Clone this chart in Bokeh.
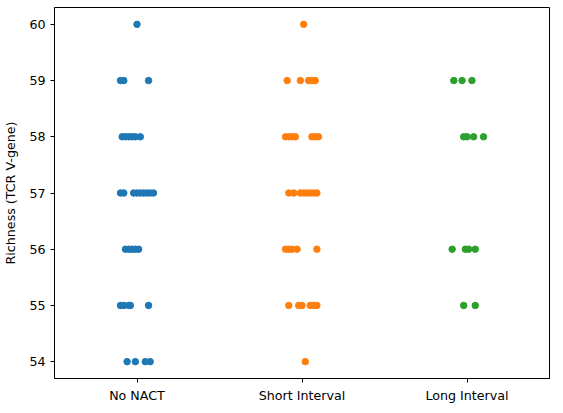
from bokeh.plotting import figure
from bokeh.models import FixedTicker
from bokeh.embed import file_html
from bokeh.resources import INLINE

categories = ["No NACT", "Short Interval", "Long Interval"]
colors = ["#1f77b4", "#ff7f0e", "#2ca02c"]

# richness values and strip jitter (category units) per group
no_nact_y = [60, 59, 59, 59, 58, 58, 58, 58, 58, 58,
             57, 57, 57, 57, 57, 57, 57, 57, 57,
             56, 56, 56, 56, 56, 55, 55, 55, 55, 55, 54, 54, 54, 54]
no_nact_j = [0.0, -0.10, -0.08, 0.07, -0.09, -0.07, -0.05, -0.03, -0.01, 0.02,
             -0.10, -0.08, -0.02, 0.0, 0.02, 0.04, 0.06, 0.08, 0.10,
             -0.07, -0.05, -0.03, -0.01, 0.01, -0.10, -0.08, -0.05, -0.04, 0.07,
             -0.06, -0.01, 0.05, 0.08]
short_y = [60, 59, 59, 59, 59, 59, 58, 58, 58, 58, 58, 58, 58,
           57, 57, 57, 57, 57, 57, 57, 57, 56, 56, 56, 56, 56,
           55, 55, 55, 55, 55, 55, 54]
short_j = [0.01, -0.09, -0.01, 0.04, 0.06, 0.08, -0.10, -0.08, -0.06, -0.04, 0.06, 0.08, 0.10,
           -0.08, -0.05, -0.01, 0.01, 0.03, 0.05, 0.07, 0.09, -0.10, -0.08, -0.06, -0.03, 0.09,
           -0.08, -0.02, 0.0, 0.05, 0.07, 0.09, 0.02]
long_y = [59, 59, 59, 58, 58, 58, 58, 56, 56, 56, 56, 55, 55]
long_j = [-0.08, -0.03, 0.03, -0.02, 0.0, 0.04, 0.10, -0.09, -0.01, 0.01, 0.05, -0.02, 0.05]

groups = [(no_nact_y, no_nact_j), (short_y, short_j), (long_y, long_j)]

p = figure(width=555, height=405, x_range=(-0.5, 2.5), y_range=(53.7, 60.3),
           output_backend="svg", toolbar_location=None,
           min_border_left=52, min_border_right=6, min_border_top=7, min_border_bottom=25)

for i, (ys, js) in enumerate(groups):
    xs = [i + j for j in js]
    p.scatter(xs, ys, size=6.5, color=colors[i], line_color=colors[i])

p.xaxis.ticker = FixedTicker(ticks=[0, 1, 2])
p.xaxis.major_label_overrides = {i: c for i, c in enumerate(categories)}
p.yaxis.ticker = FixedTicker(ticks=list(range(54, 61)))
p.yaxis.axis_label = "Richness (TCR V-gene)"
p.grid.visible = False
for ax in (p.xaxis, p.yaxis):
    ax.minor_tick_line_color = None
    ax.major_label_text_font = "DejaVu Sans"
    ax.major_label_text_font_size = "9.5pt"
    ax.major_label_text_color = "black"
    ax.major_tick_in = 0
    ax.major_tick_out = 4
    ax.axis_line_color = "black"
p.yaxis.axis_label_text_font = "DejaVu Sans"
p.yaxis.axis_label_text_font_style = "normal"
p.yaxis.axis_label_text_font_size = "9.5pt"
p.yaxis.axis_label_text_color = "black"
p.yaxis.axis_label_standoff = 8
p.outline_line_color = "black"
p.outline_line_alpha = 1

open("out.html", "w").write(file_html(p, INLINE))
